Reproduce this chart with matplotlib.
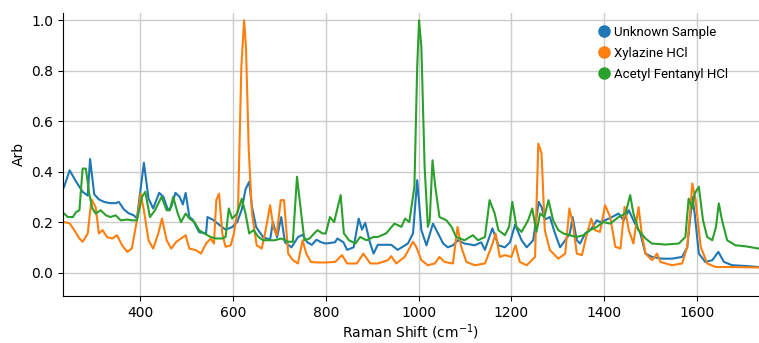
import matplotlib.pyplot as plt
from matplotlib.lines import Line2D

# Unknown Sample
unk_x = [233, 236, 248, 262, 276, 287, 292, 301, 311, 322, 336, 347, 354, 365, 375, 386, 393, 408, 418, 428,
         441, 450, 460, 467, 476, 485, 492, 498, 506, 513, 527, 542, 545, 556, 570, 584, 598, 609, 619, 627,
         635, 641, 650, 665, 680, 686, 695, 704, 712, 726, 740, 750, 760, 770, 780, 790, 800, 820, 825, 838,
         846, 860, 871, 878, 885, 895, 903, 912, 941, 955, 977, 988, 997, 1006, 1017, 1031, 1042, 1053, 1063, 1074,
         1085, 1099, 1121, 1135, 1143, 1159, 1172, 1186, 1197, 1208, 1222, 1233, 1247, 1259, 1265, 1272, 1283, 1294, 1305, 1316,
         1326, 1332, 1341, 1348, 1359, 1373, 1384, 1391, 1402, 1417, 1431, 1442, 1453, 1463, 1478, 1489, 1503, 1525, 1546, 1568,
         1579, 1590, 1595, 1604, 1618, 1633, 1646, 1658, 1676, 1705, 1733]
unk_y = [0.33, 0.34, 0.405, 0.36, 0.32, 0.305, 0.45, 0.31, 0.29, 0.28, 0.275, 0.275, 0.28, 0.25, 0.235, 0.227, 0.215, 0.435, 0.293, 0.254,
         0.316, 0.30, 0.247, 0.26, 0.316, 0.30, 0.27, 0.316, 0.22, 0.21, 0.16, 0.155, 0.22, 0.21, 0.19, 0.17, 0.18, 0.2, 0.25, 0.33,
         0.36, 0.26, 0.18, 0.14, 0.13, 0.2, 0.14, 0.22, 0.12, 0.1, 0.14, 0.15, 0.12, 0.11, 0.13, 0.12, 0.115, 0.12, 0.135, 0.12,
         0.09, 0.1, 0.214, 0.17, 0.197, 0.12, 0.075, 0.11, 0.11, 0.09, 0.115, 0.155, 0.366, 0.168, 0.108, 0.194, 0.155, 0.115, 0.1, 0.108,
         0.128, 0.115, 0.108, 0.12, 0.09, 0.175, 0.108, 0.1, 0.12, 0.19, 0.128, 0.1, 0.128, 0.28, 0.26, 0.21, 0.22, 0.155, 0.1, 0.128,
         0.155, 0.22, 0.128, 0.115, 0.155, 0.175, 0.207, 0.2, 0.207, 0.22, 0.234, 0.207, 0.247, 0.207, 0.155, 0.075, 0.062, 0.055, 0.055, 0.062,
         0.1, 0.3, 0.234, 0.075, 0.042, 0.049, 0.082, 0.042, 0.029, 0.026, 0.022]

# Xylazine HCl
xyl_x = [233, 236, 248, 258, 269, 276, 287, 295, 304, 311, 319, 329, 340, 350, 361, 372, 382, 393, 401, 408,
         418, 428, 439, 447, 457, 467, 478, 488, 498, 506, 520, 531, 542, 552, 559, 564, 570, 577, 584, 595,
         602, 611, 618, 624, 628, 634, 641, 651, 662, 669, 680, 687, 694, 703, 710, 719, 729, 740, 750, 758,
         768, 782, 800, 820, 835, 846, 867, 881, 896, 912, 934, 941, 952, 970, 988, 995, 1006, 1020, 1035, 1045,
         1056, 1074, 1084, 1092, 1103, 1121, 1143, 1157, 1166, 1175, 1186, 1200, 1209, 1218, 1233, 1251, 1258, 1265, 1272, 1283,
         1301, 1316, 1325, 1332, 1341, 1352, 1363, 1372, 1380, 1391, 1402, 1413, 1424, 1435, 1444, 1453, 1463, 1474, 1481, 1489,
         1503, 1514, 1521, 1546, 1568, 1579, 1590, 1597, 1608, 1622, 1640, 1669, 1733]
xyl_y = [0.2, 0.2, 0.195, 0.168, 0.135, 0.122, 0.155, 0.29, 0.26, 0.155, 0.168, 0.14, 0.135, 0.148, 0.108, 0.082, 0.095, 0.207, 0.313, 0.247,
         0.128, 0.095, 0.155, 0.214, 0.128, 0.095, 0.122, 0.135, 0.148, 0.095, 0.089, 0.075, 0.115, 0.135, 0.115, 0.287, 0.313, 0.155, 0.102, 0.108,
         0.155, 0.26, 0.815, 1.0, 0.895, 0.485, 0.234, 0.108, 0.095, 0.155, 0.267, 0.18, 0.148, 0.287, 0.287, 0.075, 0.049, 0.036, 0.128, 0.075,
         0.042, 0.04, 0.04, 0.042, 0.069, 0.036, 0.036, 0.075, 0.036, 0.036, 0.049, 0.065, 0.036, 0.062, 0.122, 0.102, 0.049, 0.029, 0.036, 0.062,
         0.042, 0.036, 0.181, 0.102, 0.042, 0.029, 0.036, 0.102, 0.155, 0.062, 0.069, 0.062, 0.108, 0.042, 0.029, 0.062, 0.511, 0.472, 0.168, 0.089,
         0.055, 0.075, 0.254, 0.2, 0.075, 0.069, 0.155, 0.214, 0.168, 0.161, 0.267, 0.22, 0.102, 0.095, 0.26, 0.168, 0.115, 0.26, 0.155, 0.075,
         0.049, 0.075, 0.042, 0.029, 0.036, 0.102, 0.353, 0.287, 0.102, 0.036, 0.022, 0.022, 0.02]

# Acetyl Fentanyl HCl
fen_x = [233, 236, 244, 255, 262, 269, 276, 283, 290, 297, 304, 315, 326, 336, 347, 358, 372, 382, 393, 404,
         411, 421, 432, 446, 457, 464, 471, 481, 488, 498, 506, 517, 527, 538, 552, 563, 577, 584, 591, 598,
         609, 619, 627, 635, 644, 655, 665, 676, 690, 704, 719, 729, 738, 747, 754, 765, 775, 782, 793, 800,
         809, 818, 832, 839, 850, 864, 874, 888, 903, 912, 930, 948, 963, 971, 980, 991, 997, 1001, 1006, 1013,
         1020, 1024, 1030, 1036, 1045, 1060, 1071, 1081, 1099, 1117, 1128, 1143, 1153, 1164, 1172, 1186, 1195, 1202, 1211, 1222,
         1236, 1245, 1254, 1262, 1271, 1280, 1290, 1301, 1312, 1326, 1341, 1355, 1370, 1384, 1398, 1413, 1431, 1446, 1456, 1463,
         1474, 1489, 1503, 1532, 1561, 1575, 1582, 1590, 1595, 1604, 1613, 1622, 1633, 1641, 1647, 1654, 1665, 1683, 1705, 1733]
fen_y = [0.23, 0.234, 0.22, 0.22, 0.24, 0.247, 0.412, 0.412, 0.313, 0.254, 0.234, 0.247, 0.227, 0.22, 0.227, 0.207, 0.21, 0.207, 0.207, 0.3,
         0.32, 0.22, 0.247, 0.3, 0.247, 0.247, 0.3, 0.234, 0.2, 0.234, 0.214, 0.2, 0.168, 0.155, 0.141, 0.135, 0.135, 0.141, 0.254, 0.214,
         0.234, 0.293, 0.234, 0.155, 0.168, 0.141, 0.128, 0.128, 0.128, 0.135, 0.122, 0.122, 0.38, 0.234, 0.128, 0.135, 0.155, 0.168, 0.155, 0.155,
         0.22, 0.2, 0.307, 0.155, 0.128, 0.115, 0.141, 0.128, 0.141, 0.141, 0.155, 0.194, 0.181, 0.214, 0.2, 0.34, 0.815, 1.0, 0.895, 0.42,
         0.181, 0.207, 0.445, 0.34, 0.22, 0.207, 0.181, 0.141, 0.128, 0.148, 0.128, 0.141, 0.287, 0.234, 0.168, 0.148, 0.181, 0.28, 0.181, 0.161,
         0.207, 0.254, 0.161, 0.234, 0.22, 0.287, 0.207, 0.168, 0.155, 0.148, 0.141, 0.148, 0.168, 0.181, 0.2, 0.194, 0.22, 0.234, 0.307, 0.234,
         0.168, 0.135, 0.115, 0.111, 0.115, 0.141, 0.293, 0.254, 0.313, 0.34, 0.207, 0.141, 0.128, 0.181, 0.274, 0.207, 0.128, 0.108, 0.104, 0.095]

labels = ['Unknown Sample', 'Xylazine HCl', 'Acetyl Fentanyl HCl']
colors = ['#1f77b4', '#ff7f0e', '#2ca02c']

fig = plt.figure(figsize=(7.59, 3.43), dpi=100)
ax = fig.add_axes([0.0826, 0.137, 0.917, 0.826])

ax.plot(unk_x, unk_y, color=colors[0], lw=1.5)
ax.plot(xyl_x, xyl_y, color=colors[1], lw=1.5)
ax.plot(fen_x, fen_y, color=colors[2], lw=1.5)

ax.set_xlim(233, 1733)
ax.set_ylim(-0.093, 1.03)
ax.set_xticks([400, 600, 800, 1000, 1200, 1400, 1600])
ax.set_yticks([0.0, 0.2, 0.4, 0.6, 0.8, 1.0])
ax.grid(True, color='#cccccc', lw=1)
ax.set_axisbelow(True)
ax.spines['top'].set_visible(False)
ax.spines['right'].set_visible(False)
ax.set_xlabel('Raman Shift (cm$^{-1}$)', labelpad=2)
ax.set_ylabel('Arb')

handles = [Line2D([], [], ls='', marker='o', ms=8, color=c) for c in colors]
fig.legend(handles, labels, loc='upper left', bbox_to_anchor=(0.787, 0.924),
           frameon=False, borderpad=0, borderaxespad=0, handlelength=1.0,
           handletextpad=0.3, labelspacing=0.6, prop={'family': 'Roboto', 'size': 9.5})

fig.savefig('out.png', dpi=100)
